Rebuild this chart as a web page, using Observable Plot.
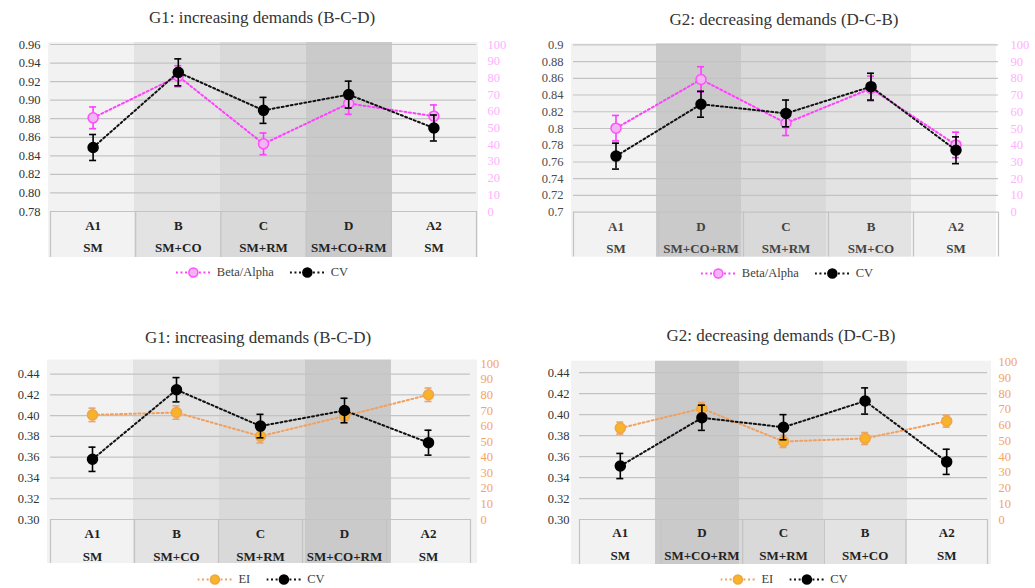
<!DOCTYPE html>
<html>
<head>
<meta charset="utf-8">
<script src="https://cdn.jsdelivr.net/npm/d3@7"></script>
<script src="https://cdn.jsdelivr.net/npm/@observablehq/plot@0.6"></script>
<style>
  body { margin: 0; background: #fff; }
  #page { position: relative; width: 1035px; height: 588px; overflow: hidden;
          font-family: "Liberation Serif", "Times New Roman", serif; color: #404040; }
  .panel { position: absolute; }
  .panel svg { position: absolute; left: 0; top: 0; }
  .title { position: absolute; transform: translate(-50%, -50%); font-size: 17px; white-space: nowrap; color: #333; }
  .legend { position: absolute; transform: translate(-50%, -50%); display: flex; align-items: center;
            font-family: "Liberation Serif", serif; font-size: 12.5px; white-space: nowrap; color: #404040; }
  .legend .item { display: flex; align-items: center; margin: 0 8px; }
  .legend .item svg { margin-right: 6px; }
</style>
</head>
<body>
<div id="page"></div>
<script>
// Conditions, in the order each group met them
const categoriesG1 = ["A1", "B", "C", "D", "A2"];
const conditionsG1 = ["SM", "SM+CO", "SM+RM", "SM+CO+RM", "SM"];
const categoriesG2 = ["A1", "D", "C", "B", "A2"];
const conditionsG2 = ["SM", "SM+CO+RM", "SM+RM", "SM+CO", "SM"];

// Top row: CV (left axis) with Beta/Alpha (right axis)
const cvG1Top = [0.849, 0.930, 0.889, 0.906, 0.870];
const cvErrG1Top = [0.014, 0.0145, 0.014, 0.0145, 0.014];
const betaAlphaG1 = [56.1, 81.0, 40.5, 64.7, 57.1];
const betaAlphaErrG1 = [6.5, 6.3, 6.5, 6.5, 6.7];

const cvG2Top = [0.767, 0.829, 0.818, 0.850, 0.774];
const cvErrG2Top = [0.0155, 0.0155, 0.016, 0.016, 0.016];
const betaAlphaG2 = [50.2, 79.3, 53.2, 73.9, 40.2];
const betaAlphaErrG2 = [7.6, 7.6, 7.4, 7.4, 7.6];

// Bottom row: CV (left axis) with EI (right axis)
const cvG1Bottom = [0.358, 0.425, 0.390, 0.405, 0.374];
const cvErrG1Bottom = [0.0117, 0.0117, 0.0113, 0.0118, 0.012];
const eiG1 = [67.2, 68.7, 53.5, 66.4, 80.1];
const eiErrG1 = [4.3, 4.3, 4.3, 4.3, 4.3];

const cvG2Bottom = [0.351, 0.397, 0.388, 0.413, 0.355];
const cvErrG2Bottom = [0.012, 0.012, 0.012, 0.0125, 0.012];
const eiG2 = [58.1, 70.6, 49.6, 51.5, 62.5];
const eiErrG2 = [3.8, 3.8, 3.8, 3.8, 3.8];

// Axis ticks
const ticksTopG1 = [0.78, 0.80, 0.82, 0.84, 0.86, 0.88, 0.90, 0.92, 0.94, 0.96];
const ticksTopG2 = [0.70, 0.72, 0.74, 0.76, 0.78, 0.80, 0.82, 0.84, 0.86, 0.88, 0.90];
const ticksBottom = [0.30, 0.32, 0.34, 0.36, 0.38, 0.40, 0.42, 0.44];
const ticksRight = [0, 10, 20, 30, 40, 50, 60, 70, 80, 90, 100];

// Panel titles
const titleG1 = "G1: increasing demands (B-C-D)";
const titleG2 = "G2: decreasing demands (D-C-B)";

// Background shade of each condition column
const shade = { A: "#f2f2f2", B: "#e3e3e3", C: "#d9d9d9", D: "#cacaca" };
const gridColor = "#c3c3c3";
const svgStyle = "background: transparent; overflow: visible; font-family: 'Liberation Serif', 'Times New Roman', serif; font-size: 12.5px;";

const pinkStyle = { line: "#ff40ff", err: "#ff3cff", fill: "#f2b4f2", stroke: "#ff50ff", axis: "#ffb0ff" };
const orangeStyle = { line: "#f2a060", err: "#eaa46c", fill: "#f7b42a", stroke: "#f0a444", axis: "#f5a460" };
const blackStyle = { line: "#111", err: "#000", fill: "#000", stroke: "#000" };

const page = document.getElementById("page");

// line + error bars with caps + markers for one series
function seriesMarks(values, errors, st, r) {
  const idx = values.map((_, i) => i);
  const cx = i => i + 0.5;
  return [
    Plot.line(idx, { x: cx, y: i => values[i], stroke: st.line, strokeWidth: 2, strokeDasharray: "2 2.6" }),
    Plot.ruleX(idx, { x: cx, y1: i => values[i] - errors[i], y2: i => values[i] + errors[i], stroke: st.err, strokeWidth: 1.6 }),
    Plot.ruleY(idx, { x1: cx, x2: cx, y: i => values[i] - errors[i], insetLeft: -3.5, insetRight: -3.5, stroke: st.err, strokeWidth: 1.6 }),
    Plot.ruleY(idx, { x1: cx, x2: cx, y: i => values[i] + errors[i], insetLeft: -3.5, insetRight: -3.5, stroke: st.err, strokeWidth: 1.6 }),
    Plot.dot(idx, { x: cx, y: i => values[i], r, fill: st.fill, stroke: st.stroke, strokeWidth: 1.5 })
  ];
}

function panel(cfg) {
  const { box, frame, bands, cats, conds } = cfg;
  const W = box.width, H = box.height, n = cats.length;
  const wrap = document.createElement("div");
  wrap.className = "panel";
  wrap.style.cssText = `left:${box.left}px;top:${box.top}px;width:${W}px;height:${H}px;`;
  const margins = f => ({
    marginLeft: f.x1 - box.left,
    marginRight: box.left + W - f.x2,
    marginTop: f.y1 - box.top,
    marginBottom: box.top + H - f.y2
  });
  const common = { width: W, height: H, style: svgStyle };
  const ymin = cfg.yDomain[0];

  // shaded condition columns
  const bandLayer = Plot.plot({
    ...common, ...margins(bands),
    x: { domain: cats, padding: 0, axis: null },
    color: { type: "identity" },
    marks: [Plot.cell(cats, { x: d => d, fill: d => shade[d[0]] })]
  });

  // grid, left axis and the condition table under the plot
  const base = Plot.plot({
    ...common, ...margins(frame),
    x: { type: "linear", domain: [0, n], axis: null },
    y: { domain: cfg.yDomain, axis: null },
    marks: [
      Plot.ruleY(cfg.leftTicks, { stroke: gridColor, strokeWidth: 1.2 }),
      Plot.ruleX(d3.range(n + 1), { y1: ymin, y2: ymin, insetBottom: -(cfg.tableBottom - frame.y2), stroke: gridColor, strokeWidth: 1.2 }),
      Plot.axisY(cfg.leftTicks, { anchor: "left", tickSize: 0, tickPadding: cfg.padL, tickFormat: cfg.leftFormat, fill: cfg.textColor, fontSize: 12.5, label: null }),
      Plot.text(cats, { x: (d, i) => i + 0.5, y: ymin, dy: cfg.rows[0], text: d => d, fontWeight: "bold", fontSize: 13, fill: cfg.tableColor }),
      Plot.text(conds, { x: (d, i) => i + 0.5, y: ymin, dy: cfg.rows[1], text: d => d, fontWeight: "bold", fontSize: 13, fill: cfg.tableColor })
    ]
  });

  // right-axis series
  const secondary = Plot.plot({
    ...common, ...margins(frame),
    x: { type: "linear", domain: [0, n], axis: null },
    y: { domain: [0, 100], axis: null },
    marks: [
      Plot.axisY(ticksRight, { anchor: "right", tickSize: 0, tickPadding: cfg.padR, fill: cfg.sec.style.axis, fontSize: 12.5, label: null }),
      ...seriesMarks(cfg.sec.values, cfg.sec.errors, cfg.sec.style, 5)
    ]
  });

  // CV series on the left axis
  const cv = Plot.plot({
    ...common, ...margins(frame),
    x: { type: "linear", domain: [0, n], axis: null },
    y: { domain: cfg.yDomain, axis: null },
    marks: seriesMarks(cfg.cv, cfg.cvErr, blackStyle, 5)
  });

  wrap.append(bandLayer, base, secondary, cv);
  page.appendChild(wrap);

  const t = document.createElement("div");
  t.className = "title";
  t.textContent = cfg.title;
  t.style.left = cfg.titleAt[0] + "px";
  t.style.top = cfg.titleAt[1] + "px";
  page.appendChild(t);

  const lg = document.createElement("div");
  lg.className = "legend";
  lg.style.left = cfg.legendAt[0] + "px";
  lg.style.top = cfg.legendAt[1] + "px";
  for (const it of [{ label: cfg.sec.label, st: cfg.sec.style }, { label: "CV", st: blackStyle }]) {
    const item = document.createElement("span");
    item.className = "item";
    item.innerHTML =
      `<svg width="35" height="12"><line x1="0" x2="35" y1="6" y2="6" stroke="${it.st.line}" stroke-width="2" stroke-dasharray="2 2.6"/>` +
      `<circle cx="17.5" cy="6" r="4.5" fill="${it.st.fill}" stroke="${it.st.stroke}" stroke-width="1.5"/></svg><span>${it.label}</span>`;
    lg.appendChild(item);
  }
  page.appendChild(lg);
}

const fmt2 = d3.format(".2f");
const fmtG = d3.format("~g");

panel({
  box: { left: 0, top: 30, width: 517, height: 240 },
  frame: { x1: 50, x2: 476, y1: 44, y2: 211 },
  bands: { x1: 47, x2: 478, y1: 42, y2: 257 },
  tableBottom: 257, rows: [14, 36], padL: 10, padR: 11,
  cats: categoriesG1, conds: conditionsG1,
  yDomain: [0.78, 0.96], leftTicks: ticksTopG1, leftFormat: fmt2,
  cv: cvG1Top, cvErr: cvErrG1Top,
  sec: { label: "Beta/Alpha", values: betaAlphaG1, errors: betaAlphaErrG1, style: pinkStyle },
  title: titleG1, titleAt: [262, 18], legendAt: [262, 272],
  textColor: "#333", tableColor: "#222"
});

panel({
  box: { left: 517, top: 30, width: 518, height: 240 },
  frame: { x1: 573, x2: 998, y1: 44.3, y2: 211.7 },
  bands: { x1: 569, x2: 998.5, y1: 43.3, y2: 256.7 },
  tableBottom: 256.5, rows: [15, 36.6], padL: 10, padR: 12,
  cats: categoriesG2, conds: conditionsG2,
  yDomain: [0.70, 0.90], leftTicks: ticksTopG2, leftFormat: fmtG,
  cv: cvG2Top, cvErr: cvErrG2Top,
  sec: { label: "Beta/Alpha", values: betaAlphaG2, errors: betaAlphaErrG2, style: pinkStyle },
  title: titleG2, titleAt: [784, 20], legendAt: [787, 273],
  textColor: "#4d4d4d", tableColor: "#444"
});

panel({
  box: { left: 0, top: 345, width: 517, height: 230 },
  frame: { x1: 50, x2: 470, y1: 363.3, y2: 519 },
  bands: { x1: 46, x2: 477, y1: 359.5, y2: 563 },
  tableBottom: 563, rows: [14, 37], padL: 11, padR: 10,
  cats: categoriesG1, conds: conditionsG1,
  yDomain: [0.30, 0.45], leftTicks: ticksBottom, leftFormat: fmt2,
  cv: cvG1Bottom, cvErr: cvErrG1Bottom,
  sec: { label: "EI", values: eiG1, errors: eiErrG1, style: orangeStyle },
  title: titleG1, titleAt: [258, 338], legendAt: [261, 579],
  textColor: "#333", tableColor: "#222"
});

panel({
  box: { left: 517, top: 345, width: 518, height: 230 },
  frame: { x1: 579, x2: 987, y1: 361.7, y2: 519 },
  bands: { x1: 569, x2: 992, y1: 360.7, y2: 564 },
  tableBottom: 564, rows: [13.7, 36.3], padL: 10, padR: 11,
  cats: categoriesG2, conds: conditionsG2,
  yDomain: [0.30, 0.45], leftTicks: ticksBottom, leftFormat: fmt2,
  cv: cvG2Bottom, cvErr: cvErrG2Bottom,
  sec: { label: "EI", values: eiG2, errors: eiErrG2, style: orangeStyle },
  title: titleG2, titleAt: [781, 336], legendAt: [784, 579],
  textColor: "#333", tableColor: "#222"
});
</script>
</body>
</html>
